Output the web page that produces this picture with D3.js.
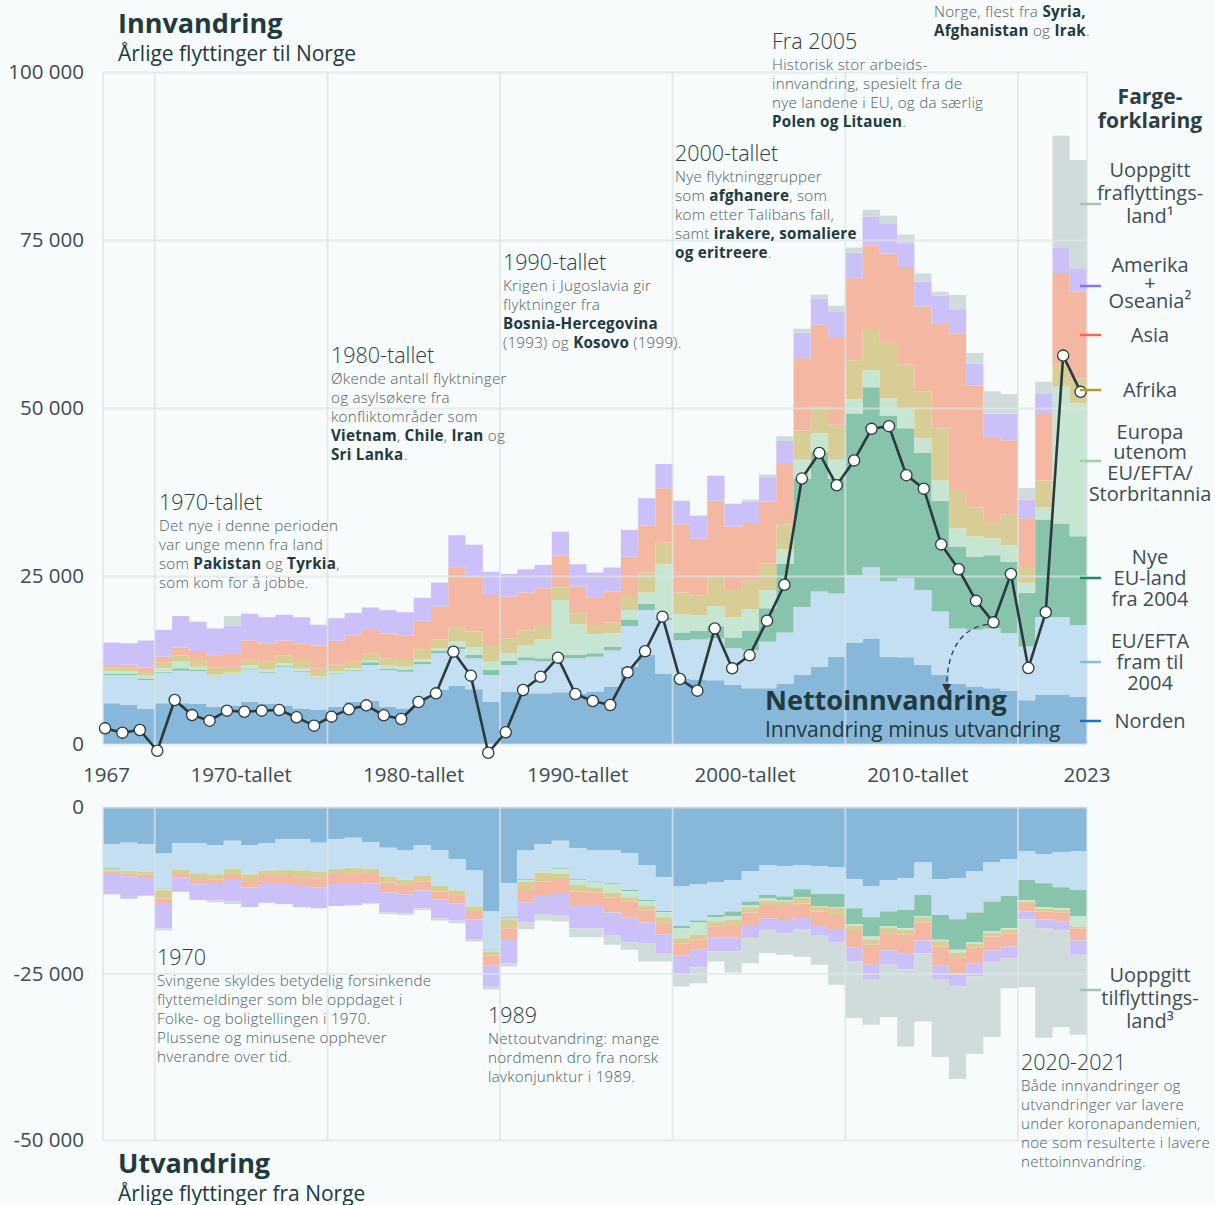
<!DOCTYPE html>
<html lang="no">
<head>
<meta charset="utf-8">
<title>Innvandring og utvandring</title>
<script src="https://cdn.jsdelivr.net/npm/d3@7"></script>
<style>
  body { margin: 0; background: #f7fbfc; }
  svg { display: block; font-family: "Open Sans", sans-serif; }
</style>
</head>
<body>
<svg id="chart" width="1215" height="1205"></svg>
<script>
// Years 1967-2023, values in thousands of people
const years = d3.range(1967, 2024);

// Innvandring (moves to Norway) by country moved from
const innNorden = [6.05,5.8,5.26,6.05,6.05,5.95,5.55,5.65,6.3,5.95, 5.65,5.3,5.05,5.55,6.3,6.45,5.55,5.3,6.8,8.05, 8.65,8.15,6.3,7.8,7.55,7.55,7.7,7.45,7.8,8.55, 11.5,13.25,10.5,9.75,9.6,9.5,8.8,8.3,8.3,9.0, 10.3,11.5,13.0,15.1,15.7,13.0,12.9,11.8,10.3,9.0, 8.5,8.3,7.9,6.5,7.3,7.3,7.0];
const innEuEfta = [4.2,4.46,4.27,4.56,4.86,4.9,4.45,4.6,4.8,4.65, 5.85,5.45,4.7,4.95,4.6,5.3,5.45,5.45,5.05,5.45, 5.45,4.6,3.97,3.97,4.86,4.71,5.06,5.3,5.2,5.36, 6.05,6.7,7.94,5.7,5.95,6.2,5.46,5.6,6.9,7.6, 10.1,11.2,9.4,10.0,10.6,11.2,11.8,11.1,9.4,8.2, 8.5,8.9,8.6,8.0,11.6,11.6,10.7];
const innNyeEu = [0.15,0.15,0.2,0.15,0.35,0.15,0.1,0.1,0.15,0.15, 0.1,0.15,0.1,0.1,0.15,0.4,0.25,0.35,0.4,0.4, 0.4,0.5,0.74,0.6,0.5,0.5,0.5,0.5,0.5,0.6, 0.99,0.89,0.35,1.14,1.29,1.84,1.59,3.0,5.0,10.2, 19.1,20.7,17.1,24.1,26.8,24.6,22.3,20.4,16.5,12.2, 10.9,10.9,10.6,8.0,14.5,13.9,13.2];
const innEuropa = [0.5,0.45,0.55,0.5,1.0,0.5,0.2,0.25,0.5,0.4, 0.4,0.35,0.2,0.2,0.2,0.35,0.5,0.4,0.4,0.35, 0.75,1.2,1.24,1.14,1.84,2.83,8.18,4.56,2.88,1.98, 1.39,1.69,7.94,2.73,2.33,2.98,2.98,3.2,2.7,2.2, 2.8,2.8,2.8,2.1,2.5,2.6,2.8,2.2,3.0,2.7, 3.0,2.5,2.5,1.5,1.8,20.4,19.8];
const innAfrika = [0.5,0.5,0.6,0.9,0.9,1.0,1.1,0.9,0.9,1.1, 1.15,1.25,1.15,1.0,1.0,1.0,1.0,1.0,1.45,1.35, 2.15,2.3,2.48,2.23,2.13,1.98,1.88,1.64,1.34,1.59, 2.08,2.98,3.22,3.22,2.98,4.37,4.22,4.2,4.0,3.7, 4.4,4.1,5.2,5.8,6.0,8.3,6.7,6.9,7.8,5.7, 4.3,2.6,4.5,2.2,4.0,3.3,3.7];
const innAsia = [0.35,0.45,0.5,0.85,1.2,1.35,1.8,2.0,2.8,2.7, 2.25,2.5,3.45,3.55,3.85,3.45,3.7,3.7,4.25,4.85, 8.9,8.1,7.44,6.2,5.65,5.6,4.71,3.97,4.12,4.56, 5.85,6.99,8.09,10.17,8.43,11.31,9.33,8.6,9.2,9.1, 10.7,12.1,12.9,12.2,12.6,13.3,14.5,12.7,15.5,23.3, 18.1,12.5,11.1,7.4,9.9,13.6,12.9];
const innAmerika = [3.37,3.19,4.02,3.97,4.7,4.35,4.0,4.1,3.95,3.9, 3.85,3.85,3.1,3.35,3.4,3.35,3.45,3.4,3.4,3.6, 4.75,4.8,3.47,3.37,3.47,3.47,3.57,3.32,3.67,3.62, 3.97,4.07,3.62,3.47,3.42,3.72,3.37,3.2,3.6,3.3, 3.8,3.9,3.9,3.8,4.3,4.5,3.5,3.7,4.2,3.5, 3.3,3.5,4.0,2.8,3.0,3.7,3.5];
const innUoppgitt = [0,0,0,0,0,0,0,1.45,0,0, 0,0,0,0,0,0,0,0,0,0, 0,0,0,0,0,0,0,0,0,0, 0,0,0,0,0,0,0,0.3,0.4,0.7, 0.6,0.6,0.9,0.8,1.0,1.1,1.3,1.2,0.6,2.2, 1.6,3.3,2.9,1.7,1.8,16.7,16.1];

// Utvandring (moves from Norway) by country moved to
const utNorden = [5.56,5.36,5.56,7.0,5.46,5.46,5.7,5.05,5.7,5.46, 4.85,4.85,5.36,4.85,4.6,5.3,6.1,6.55,5.7,6.45, 7.85,9.55,15.7,11.46,6.55,5.56,5.05,6.2,6.55,6.55, 6.95,8.7,10.55,11.85,11.55,11.35,10.95,9.7,8.7,8.85, 8.7,8.85,9.1,10.85,11.85,10.95,10.7,8.35,10.85,10.7, 9.7,8.35,7.85,6.7,7.05,6.85,6.7];
const utEuEfta = [3.65,4.1,4.0,5.15,3.85,4.5,4.35,4.15,4.25,4.0, 4.5,4.6,4.25,4.35,4.45,3.9,4.25,4.3,4.5,5.25, 4.6,5.3,5.75,5.1,4.3,4.0,4.15,4.65,4.65,4.9, 5.5,5.25,5.05,6.0,5.5,4.85,4.75,4.5,4.5,4.6, 3.65,4.2,3.95,4.35,4.7,4.75,4.75,4.85,5.35,6.15, 6.15,5.85,5.5,4.25,4.4,5.2,5.75];
const utNyeEu = [0.1,0.05,0.05,0.1,0.05,0.05,0.05,0.05,0.05,0.05, 0.05,0.05,0.05,0.05,0.05,0.05,0.05,0.05,0.05,0.05, 0.05,0.05,0.1,0.1,0.1,0.1,0.15,0.15,0.15,0.2, 0.2,0.2,0.2,0.35,0.3,0.35,0.65,0.5,0.5,0.5, 1.2,1.8,2.0,2.35,2.9,2.25,2.75,3.15,3.75,4.6, 4.5,4.5,4.85,3.0,3.6,3.15,3.9];
const utEuropa = [0.15,0.1,0.1,0.25,0.05,0.05,0.05,0.05,0.1,0.05, 0.05,0.05,0.05,0.05,0.05,0.05,0.05,0.05,0.05,0.05, 0.05,0.05,0.15,0.2,0.25,0.2,0.7,0.7,0.7,1.2, 0.9,0.7,0.75,1.5,1.85,0.65,0.6,0.35,0.35,0.2, 0.1,0.1,0.1,0.3,0.4,0.2,0.2,0.2,0.2,0.4, 0.2,0.2,0.2,0.25,0.2,0.2,1.6];
const utAfrika = [0.25,0.35,0.45,1.25,0.65,0.75,0.75,0.9,1.15,0.8, 0.9,1.0,1.0,0.75,0.8,0.75,0.9,0.75,0.9,0.9, 0.8,0.65,0.6,1.35,1.25,1.35,0.9,1.0,0.8,0.75, 0.65,0.7,1.0,0.85,0.65,0.75,0.75,0.8,0.65,0.7, 0.85,0.75,1.05,0.75,0.85,0.8,0.8,0.8,0.8,0.7, 0.5,0.55,0.55,0.35,0.4,0.4,0.25];
const utAsia = [0.35,0.45,0.5,0.65,0.5,0.8,0.65,0.75,0.85,1.2, 1.2,1.3,1.35,1.5,1.6,1.4,1.5,1.4,1.35,1.15, 1.1,1.25,1.45,1.75,1.9,2.0,2.1,2.15,2.0,2.25, 2.35,1.8,1.55,1.75,1.6,1.6,1.85,2.0,2.0,2.1, 2.0,2.0,2.25,2.45,3.0,2.6,2.85,2.7,2.9,2.5, 2.4,2.1,2.0,1.15,1.25,1.35,1.85];
const utAmerika = [3.05,3.25,2.65,3.85,2.15,2.35,2.5,3.25,2.9,2.8, 3.0,3.2,3.15,3.3,3.15,3.0,3.0,2.85,2.65,2.85, 2.6,3.1,3.25,3.5,3.0,2.85,3.15,3.35,3.35,3.5, 3.8,3.2,2.95,2.9,2.6,2.15,2.15,1.85,1.85,2.0, 1.9,1.65,1.9,2.15,2.25,2.15,2.3,1.9,2.1,1.9, 2.0,1.8,1.75,1.15,1.35,1.4,2.15];
const utUoppgitt = [0,0.15,0,0.25,0,0,0.25,0.35,0,0, 0,0,0,0,0.1,0.1,0.2,0.25,0.25,0.35, 0.4,0.25,0.4,0.5,1.0,1.0,1.0,1.35,1.35,1.35, 1.1,2.65,1.15,1.75,2.4,1.5,3.15,3.75,3.4,3.25, 4.1,4.35,6.35,8.5,6.75,7.85,11.6,10.25,11.6,13.9, 11.6,11.2,4.5,10.2,16.4,14.5,12.0];

// Nettoinnvandring (innvandring minus utvandring)
const netto = [2.33,1.69,2.08,-1.0,6.55,4.3,3.47,4.96,4.8,4.96, 5.06,3.97,2.73,4.07,5.16,5.75,4.27,3.72,6.25,7.54, 13.74,10.17,-1.3,1.74,8.04,10.0,12.85,7.44,6.4,5.8, 10.66,13.8,18.95,9.67,7.94,17.2,11.26,13.2,18.35,23.7, 39.5,43.3,38.5,42.2,46.9,47.3,40.0,38.0,29.7,26.0, 21.3,18.1,25.3,11.3,19.6,57.8,52.4];

// axis ticks
const topTicks = [0, 25, 50, 75, 100];
const bottomTicks = [-50, -25, 0];
const decadeLines = [1970, 1980, 1990, 2000, 2010, 2020];
const xLabels = ['1967', '1970-tallet', '1980-tallet', '1990-tallet', '2000-tallet', '2010-tallet', '2023'];
const xLabelYears = [1967.2, 1975, 1985, 1994.5, 2004.2, 2014.2, 2024];

// series / legend
const keys = ['norden', 'euefta', 'nyeeu', 'europa', 'afrika', 'asia', 'amerika', 'uoppgitt'];
const legendText = [
  ['Norden'], ['EU/EFTA', 'fram til', '2004'], ['Nye', 'EU-land', 'fra 2004'],
  ['Europa', 'utenom', 'EU/EFTA/', 'Storbritannia'], ['Afrika'], ['Asia'],
  ['Amerika', '+', 'Oseania²'], ['Uoppgitt', 'fraflyttings-', 'land¹']
];
const fills = ['#87b8da', '#c3dff1', '#88c4ab', '#c7e6d1', '#d9cd96', '#f4b7a2', '#cbc0f7', '#d0dcdc'];
const lineColors = ['#1f74b6', '#7fc0ea', '#1b8c5c', '#9bd3a4', '#b89b22', '#f26b46', '#8d70f0', '#a8bfbf'];
// legend layout: y of each text line and y of the colour mark
const legendLineY = [[721], [641, 662, 683], [557, 578, 599], [432, 452, 473, 494], [390], [335], [265, 283, 301], [170, 193, 216]];
const legendMarkY = [721, 662, 578, 461, 390, 335, 286, 204];

const dark = '#22393e';
const grey = '#4f5e63';

const svg = d3.select('#chart');

const xBand = d3.scaleLinear().domain([1967, 2024]).range([103, 1087]);
const xPt = d3.scaleLinear().domain([1967, 2023]).range([105, 1080.6]);
const yTop = d3.scaleLinear().domain([0, 100]).range([744, 72]);
const yBot = d3.scaleLinear().domain([-50, 0]).range([1140, 807]);

const nb = d3.formatLocale({ decimal: ',', thousands: '\u00a0', grouping: [3], currency: ['', ''], minus: '-' });
const fmt = nb.format(',');

function toRows(cols, sign) {
  const rows = years.map((year, i) => {
    const r = { year };
    keys.forEach((k, j) => { r[k] = sign * cols[j][i]; });
    return r;
  });
  // extra row so the last year gets its full step
  rows.push({ ...rows[rows.length - 1], year: 2024 });
  return rows;
}

const stack = d3.stack().keys(keys).offset(d3.stackOffsetDiverging);
const seriesIn = stack(toRows([innNorden, innEuEfta, innNyeEu, innEuropa, innAfrika, innAsia, innAmerika, innUoppgitt], 1));
const seriesOut = stack(toRows([utNorden, utEuEfta, utNyeEu, utEuropa, utAfrika, utAsia, utAmerika, utUoppgitt], -1));

function drawStack(series, y) {
  const area = d3.area()
    .curve(d3.curveStepAfter)
    .x(d => xBand(d.data.year))
    .y0(d => y(d[0]))
    .y1(d => y(d[1]));
  svg.append('g')
    .selectAll('path')
    .data(series)
    .join('path')
    .attr('fill', (d, i) => fills[i])
    .attr('d', area);
}

drawStack(seriesIn, yTop);
drawStack(seriesOut, yBot);

// grid on top of the areas
function drawGrid(y, ticks) {
  const g = svg.append('g')
    .attr('transform', `translate(${xBand(1967)},0)`)
    .call(d3.axisLeft(y).tickValues(ticks).tickSizeInner(-(xBand(2024) - xBand(1967))).tickSizeOuter(0).tickPadding(19).tickFormat(d => fmt(d * 1000)));
  g.select('.domain').remove();
  g.selectAll('line').attr('stroke', '#dbe5e5').attr('stroke-width', 2).attr('opacity', 0.7);
  g.selectAll('text').attr('font-size', 20.5).attr('fill', '#3e4b4f').attr('font-family', '"Open Sans", sans-serif');

  svg.append('g')
    .selectAll('line')
    .data([1967, ...decadeLines, 2024])
    .join('line')
    .attr('x1', d => xBand(d)).attr('x2', d => xBand(d))
    .attr('y1', y.range()[0]).attr('y2', y.range()[1])
    .attr('stroke', '#dbe5e5').attr('stroke-width', 2).attr('opacity', 0.7);
}
drawGrid(yTop, topTicks);
drawGrid(yBot, bottomTicks);

// x labels
svg.append('g')
  .selectAll('text')
  .data(xLabels)
  .join('text')
  .attr('x', (d, i) => xBand(xLabelYears[i]))
  .attr('y', 775)
  .attr('dy', '0.35em')
  .attr('text-anchor', 'middle')
  .attr('font-size', 20.5)
  .attr('fill', '#3e4b4f')
  .text(d => d);

// net line
svg.append('path')
  .datum(netto)
  .attr('fill', 'none')
  .attr('stroke', '#2b3a3e')
  .attr('stroke-width', 2.6)
  .attr('stroke-linejoin', 'round')
  .attr('d', d3.line().x((d, i) => xPt(years[i])).y(d => yTop(d)));

svg.append('g')
  .selectAll('circle')
  .data(netto)
  .join('circle')
  .attr('cx', (d, i) => xPt(years[i]))
  .attr('cy', d => yTop(d))
  .attr('r', 5.6)
  .attr('fill', '#fff')
  .attr('stroke', '#2b3a3e')
  .attr('stroke-width', 1.3);

// legend
svg.append('text').attr('x', 1150).attr('y', 97).attr('dy', '0.35em').attr('text-anchor', 'middle')
  .attr('font-size', 21).attr('font-weight', 700).attr('fill', '#2e3e42').text('Farge-');
svg.append('text').attr('x', 1150).attr('y', 121).attr('dy', '0.35em').attr('text-anchor', 'middle')
  .attr('font-size', 21).attr('font-weight', 700).attr('fill', '#2e3e42').text('forklaring');

const leg = svg.append('g');
legendText.forEach((lines, i) => {
  leg.append('line')
    .attr('x1', 1080).attr('x2', 1101)
    .attr('y1', legendMarkY[i]).attr('y2', legendMarkY[i])
    .attr('stroke', lineColors[i]).attr('stroke-width', 2.5);
  lines.forEach((t, j) => {
    leg.append('text')
      .attr('x', 1150).attr('y', legendLineY[i][j]).attr('dy', '0.35em')
      .attr('text-anchor', 'middle').attr('font-size', 20).attr('fill', '#3e4d51')
      .text(t);
  });
});
// emigration "unknown" legend
leg.append('line').attr('x1', 1080).attr('x2', 1101).attr('y1', 990).attr('y2', 990)
  .attr('stroke', lineColors[7]).attr('stroke-width', 2.5);
['Uoppgitt', 'tilflyttings-', 'land³'].forEach((t, j) => {
  leg.append('text').attr('x', 1150).attr('y', 975 + j * 23).attr('dy', '0.35em')
    .attr('text-anchor', 'middle').attr('font-size', 20).attr('fill', '#3e4d51').text(t);
});

// titles
function title(x, y, big, small) {
  svg.append('text').attr('x', x).attr('y', y).attr('dy', '0.35em')
    .attr('font-size', 27).attr('font-weight', 700).attr('fill', dark).text(big);
  svg.append('text').attr('x', x).attr('y', y + 30).attr('dy', '0.35em')
    .attr('font-size', 21).attr('fill', dark).text(small);
}
title(118, 24, 'Innvandring', 'Årlige flyttinger til Norge');
title(118, 1164, 'Utvandring', 'Årlige flyttinger fra Norge');

// annotations, **text** is bold
const notes = [
  { x: 159, y: 502, head: '1970-tallet', lines: ['Det nye i denne perioden', 'var unge menn fra land', 'som **Pakistan** og **Tyrkia**,', 'som kom for å jobbe.'] },
  { x: 331, y: 355, head: '1980-tallet', lines: ['Økende antall flyktninger', 'og asylsøkere fra', 'konfliktområder som', '**Vietnam**, **Chile**, **Iran** og', '**Sri Lanka**.'] },
  { x: 503, y: 262, head: '1990-tallet', lines: ['Krigen i Jugoslavia gir', 'flyktninger fra', '**Bosnia-Hercegovina**', '(1993) og **Kosovo** (1999).'] },
  { x: 675, y: 153, head: '2000-tallet', lines: ['Nye flyktninggrupper', 'som **afghanere**, som', 'kom etter Talibans fall,', 'samt **irakere, somaliere**', '**og eritreere**.'] },
  { x: 772, y: 41, head: 'Fra 2005', lines: ['Historisk stor arbeids-', 'innvandring, spesielt fra de', 'nye landene i EU, og da særlig', '**Polen og Litauen**.'] },
  { x: 934, y: -12, head: null, lines: ['Norge, flest fra **Syria,**', '**Afghanistan** og **Irak**.'] },
  { x: 157, y: 957, head: '1970', lines: ['Svingene skyldes betydelig forsinkende', 'flyttemeldinger som ble oppdaget i', 'Folke- og boligtellingen i 1970.', 'Plussene og minusene opphever', 'hverandre over tid.'] },
  { x: 488, y: 1015, head: '1989', lines: ['Nettoutvandring: mange', 'nordmenn dro fra norsk', 'lavkonjunktur i 1989.'] },
  { x: 1021, y: 1062, head: '2020-2021', lines: ['Både innvandringer og', 'utvandringer var lavere', 'under koronapandemien,', 'noe som resulterte i lavere', 'nettoinnvandring.'] }
];

function richLine(sel, str) {
  str.split(/(\*\*[^*]+\*\*)/).filter(Boolean).forEach(part => {
    const bold = part.startsWith('**');
    sel.append('tspan')
      .attr('font-weight', bold ? 700 : 300)
      .attr('fill', bold ? dark : grey)
      .text(bold ? part.slice(2, -2) : part);
  });
}

const ann = svg.append('g');
notes.forEach(n => {
  if (n.head) {
    ann.append('text').attr('x', n.x).attr('y', n.y).attr('dy', '0.35em')
      .attr('font-size', 21.5).attr('font-weight', 300).attr('fill', '#2c3c40').text(n.head);
  }
  n.lines.forEach((l, j) => {
    const t = ann.append('text').attr('x', n.x).attr('y', n.y + 24 + j * 18.9).attr('dy', '0.35em')
      .attr('font-size', 15.2).attr('letter-spacing', 0.25);
    richLine(t, l);
  });
});

// net immigration label and arrow
svg.append('defs').append('marker')
  .attr('id', 'arrow').attr('viewBox', '0 0 10 10').attr('refX', 5).attr('refY', 5)
  .attr('markerWidth', 7).attr('markerHeight', 7).attr('orient', 'auto-start-reverse')
  .append('path').attr('d', 'M0,0L10,5L0,10z').attr('fill', '#2b3a3e');

const ptX = xPt(2018), ptY = yTop(netto[2018 - 1967]);
svg.append('path')
  .attr('d', `M${ptX - 6},${ptY + 2} Q${ptX - 46},${ptY + 8} ${ptX - 47},${ptY + 66}`)
  .attr('fill', 'none').attr('stroke', '#2b3a3e').attr('stroke-width', 1.3)
  .attr('stroke-dasharray', '5,4').attr('marker-end', 'url(#arrow)');

svg.append('text').attr('x', 765).attr('y', 701).attr('dy', '0.35em')
  .attr('font-size', 27).attr('font-weight', 700).attr('fill', dark).text('Nettoinnvandring');
svg.append('text').attr('x', 765).attr('y', 730).attr('dy', '0.35em')
  .attr('font-size', 21).attr('fill', dark).text('Innvandring minus utvandring');
</script>
</body>
</html>
